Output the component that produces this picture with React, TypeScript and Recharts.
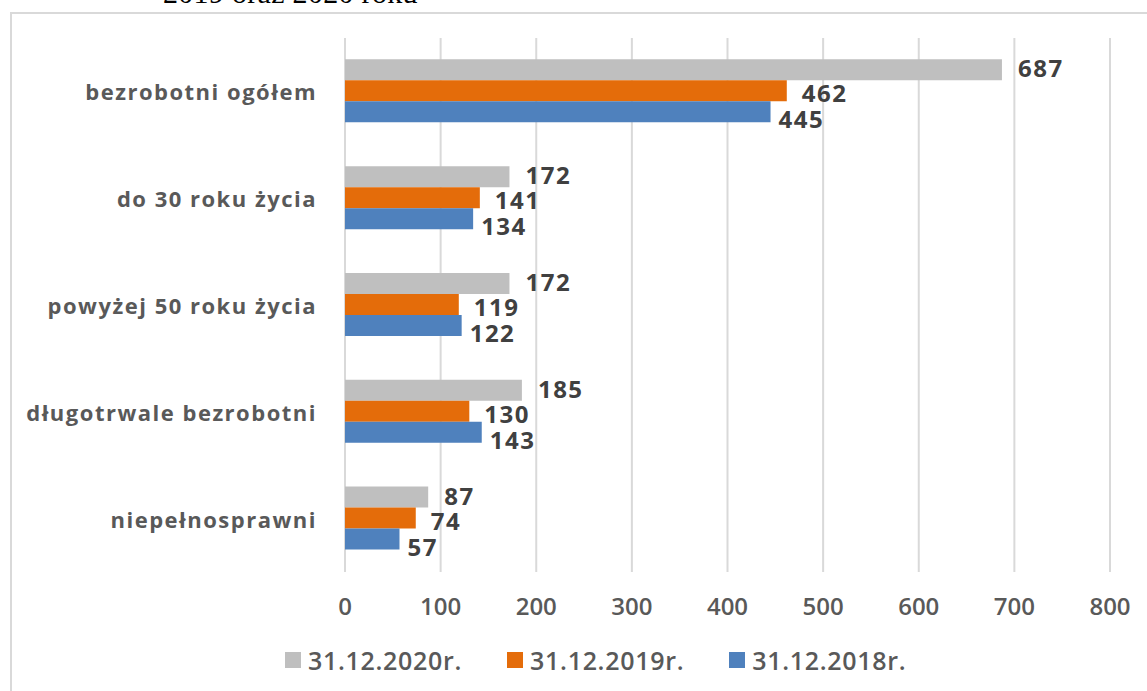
import React from 'react';
import { Bar, BarChart, CartesianGrid, LabelList, Legend, XAxis, YAxis } from 'recharts';

// Bezrobotni w wybranych grupach – stan na 31.12.2018, 2019 i 2020 r.

const CATEGORIES = [
  'bezrobotni ogółem',
  'do 30 roku życia',
  'powyżej 50 roku życia',
  'długotrwale bezrobotni',
  'niepełnosprawni',
];

const Y2020 = [687, 172, 172, 185, 87];
const Y2019 = [462, 141, 119, 130, 74];
const Y2018 = [445, 134, 122, 143, 57];

const X_TICKS = [0, 100, 200, 300, 400, 500, 600, 700, 800];

const SERIES = [
  { key: 'y2020', label: '31.12.2020r.', color: '#bfbfbf', dx: 16, dy: -2 },
  { key: 'y2019', label: '31.12.2019r.', color: '#e46c0a', dx: 15, dy: 2 },
  { key: 'y2018', label: '31.12.2018r.', color: '#4f81bd', dx: 8, dy: 7 },
];

const FONT = '"Open Sans", "DejaVu Sans", sans-serif';
const TEXT = '#595959';
const LEGEND_H = 36;
const XAXIS_H = 30;

const data = CATEGORIES.map((name, i) => ({
  name,
  y2020: Y2020[i],
  y2019: Y2019[i],
  y2018: Y2018[i],
}));

const makeLabel = (dx: number, dy: number) => (props: any) => {
  const { x, y, width, height, value } = props;
  return (
    <text
      x={x + width + dx}
      y={y + height / 2 + dy}
      dominantBaseline="central"
      fontFamily={FONT}
      fontSize={24}
      fontWeight={700}
      letterSpacing={1.5}
      fill="#404040"
    >
      {value}
    </text>
  );
};

const CategoryTick = (props: any) => {
  const { x, y, payload } = props;
  return (
    <text
      x={x}
      y={y}
      textAnchor="end"
      dominantBaseline="central"
      fontFamily={FONT}
      fontSize={22}
      fontWeight={700}
      letterSpacing={1.5}
      fill={TEXT}
    >
      {payload.value}
    </text>
  );
};

const LegendContent = () => (
  <div
    style={{
      display: 'flex',
      alignItems: 'center',
      height: LEGEND_H,
      lineHeight: `${LEGEND_H}px`,
      fontFamily: FONT,
    }}
  >
    {SERIES.map((s) => (
      <div key={s.key} style={{ display: 'flex', alignItems: 'center', marginRight: 45 }}>
        <span style={{ width: 16, height: 16, background: s.color, marginRight: 7 }} />
        <span style={{ fontSize: 25, fontWeight: 600, letterSpacing: 0.7, color: TEXT }}>
          {s.label}
        </span>
      </div>
    ))}
  </div>
);

export default function App() {
  return (
    <div
      style={{
        position: 'absolute',
        left: 0,
        top: 0,
        width: 1147,
        height: 691,
        overflow: 'hidden',
        background: '#fff',
      }}
    >
      <div
        style={{
          position: 'absolute',
          left: 163,
          top: -22,
          fontFamily: '"Liberation Serif", "Times New Roman", serif',
          fontSize: 30,
          lineHeight: '30px',
          letterSpacing: 0.3,
          color: '#000',
          whiteSpace: 'nowrap',
        }}
      >
        2019 oraz 2020 roku
      </div>
      <div
        style={{
          position: 'absolute',
          left: 10,
          top: 12,
          width: 1160,
          height: 700,
          border: '2px solid #d9d9d9',
        }}
      />
      <div style={{ position: 'absolute', left: 0, top: 0 }}>
        <BarChart
          width={1147}
          height={691}
          data={data}
          layout="vertical"
          margin={{ top: 38, right: 37, bottom: 119 - XAXIS_H - LEGEND_H, left: 0 }}
          barCategoryGap="20%"
          barGap={0}
        >
          <CartesianGrid horizontal={false} stroke="#d9d9d9" strokeWidth={2} />
          <XAxis
            type="number"
            domain={[0, 800]}
            ticks={X_TICKS}
            height={XAXIS_H}
            axisLine={false}
            tickLine={false}
            tickMargin={20}
            tick={{ fontSize: 24, fontWeight: 600, fill: TEXT, fontFamily: FONT }}
          />
          <YAxis
            type="category"
            dataKey="name"
            width={345}
            axisLine={false}
            tickLine={false}
            tickMargin={22}
            tick={<CategoryTick />}
          />
          <Legend
            verticalAlign="bottom"
            content={<LegendContent />}
            wrapperStyle={{ left: 285, top: 660 - LEGEND_H / 2, width: 'auto', height: LEGEND_H }}
          />
          {SERIES.map((s) => (
            <Bar key={s.key} dataKey={s.key} name={s.label} fill={s.color} isAnimationActive={false}>
              <LabelList dataKey={s.key} content={makeLabel(s.dx, s.dy)} />
            </Bar>
          ))}
        </BarChart>
      </div>
    </div>
  );
}
